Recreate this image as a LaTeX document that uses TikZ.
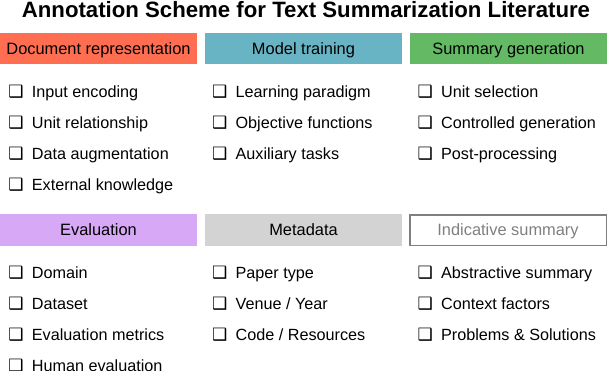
\documentclass[tikz,border=0pt]{standalone}
\usepackage{fontspec}
\setmainfont{Liberation Sans}
\newfontfamily\dvfont{DejaVu Sans}
\definecolor{cOrange}{HTML}{FF6E50}
\definecolor{cTeal}{HTML}{68B4C4}
\definecolor{cGreen}{HTML}{64BA64}
\definecolor{cPurple}{HTML}{D6A8F6}
\definecolor{cGray}{HTML}{D3D3D3}
\definecolor{cBorder}{HTML}{7F7F7F}
\newcommand{\cbx}{\makebox[23.4pt][l]{\dvfont\fontsize{17}{19}\selectfont ❑}}
\tikzset{
  hdr/.style={minimum width=197pt, minimum height=31.5pt, inner sep=0pt, text height=11.7pt, text depth=0pt, font=\fontsize{16.4}{19}\selectfont},
  item/.style={anchor=base west, inner sep=0pt, font=\fontsize{16.2}{19}\selectfont},
}
\begin{document}
\begin{tikzpicture}[x=1pt,y=-1pt]
\useasboundingbox (0,0) rectangle (608,370);
\node[anchor=base, inner sep=0pt, font=\bfseries\fontsize{22.2}{26}\selectfont] (title) at (306,17.8) {Annotation Scheme for Text Summarization Literature};
% headers row 1
\node[hdr, fill=cOrange] (h1) at (98.5,48.5) {Document representation};
\node[hdr, fill=cTeal] (h2) at (303.5,48.5) {Model training};
\node[hdr, fill=cGreen] (h3) at (508.5,48.5) {Summary generation};
% headers row 2
\node[hdr, fill=cPurple] (h4) at (98.5,230) {Evaluation};
\node[hdr, fill=cGray] (h5) at (303.5,230) {Metadata};
\node[hdr, draw=cBorder, line width=1.5pt, text=cBorder, minimum width=196.5pt, minimum height=30.5pt] (h6) at (508,230) {Indicative summary};
% items col 1
\node[item] (a1) at (8.3,97.3) {\cbx Input encoding};
\node[item] (a2) at (8.3,128.4) {\cbx Unit relationship};
\node[item] (a3) at (8.3,159.5) {\cbx Data augmentation};
\node[item] (a4) at (8.3,190.6) {\cbx External knowledge};
% items col 2
\node[item] (b1) at (212,97.3) {\cbx Learning paradigm};
\node[item] (b2) at (212,128.4) {\cbx Objective functions};
\node[item] (b3) at (212,159.5) {\cbx Auxiliary tasks};
% items col 3
\node[item] (c1) at (417.5,97.3) {\cbx Unit selection};
\node[item] (c2) at (417.5,128.4) {\cbx Controlled generation};
\node[item] (c3) at (417.5,159.5) {\cbx Post-processing};
% row 2 col 1
\node[item] (d1) at (8.3,278.3) {\cbx Domain};
\node[item] (d2) at (8.3,309.3) {\cbx Dataset};
\node[item] (d3) at (8.3,340.3) {\cbx Evaluation metrics};
\node[item] (d4) at (8.3,371.3) {\cbx Human evaluation};
% row 2 col 2
\node[item] (e1) at (212,278.3) {\cbx Paper type};
\node[item] (e2) at (212,309.3) {\cbx Venue / Year};
\node[item] (e3) at (212,340.3) {\cbx Code / Resources};
% row 2 col 3
\node[item] (f1) at (417.5,278.3) {\cbx Abstractive summary};
\node[item] (f2) at (417.5,309.3) {\cbx Context factors};
\node[item] (f3) at (417.5,340.3) {\cbx Problems \& Solutions};
\end{tikzpicture}
\end{document}
